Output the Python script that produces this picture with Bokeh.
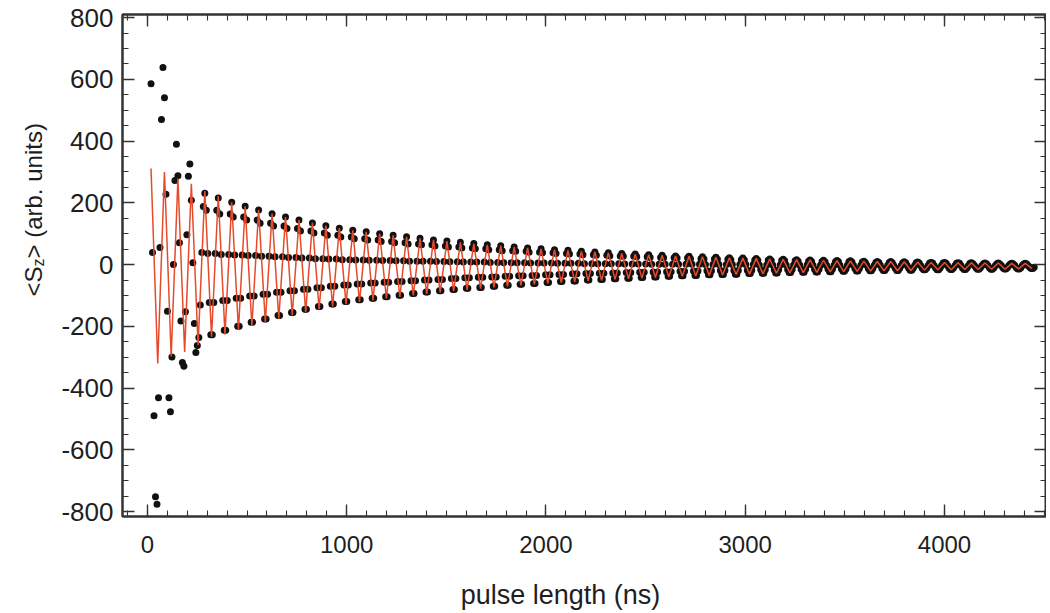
import numpy as np
from bokeh.plotting import figure
from bokeh.layouts import row, column
from bokeh.models import LinearAxis, SingleIntervalTicker, Label, Range1d
from bokeh.embed import file_html
from bokeh.resources import INLINE

# ---- data ----
pulse_start_ns = 18.0      # first pulse length
pulse_step_ns = 7.5        # pulse-length increment of the sweep

sz_measured = [
    586, 39, -490, -752, -776, -431, 55, 470, 638,
    540, 228, -151, -431, -477, -299, 0, 272, 390,
    288, 71, -183, -317, -329, -153, 97, 286, 326,
    208, 6, -191, -285, -262, -236, -131, 39, 188,
    231, 176, 36, -123, -227, -227, -123, 36, 176,
    216, 164, 33, -116, -213, -213, -116, 33, 164,
    202, 154, 31, -109, -200, -200, -109, 31, 154,
    189, 144, 29, -102, -187, -187, -102, 29, 144,
    177, 134, 27, -96, -176, -176, -96, 27, 134,
    165, 125, 25, -90, -165, -165, -90, 25, 125,
    154, 117, 23, -85, -155, -155, -85, 23, 117,
    144, 109, 21, -80, -145, -145, -80, 21, 109,
    135, 102, 19, -75, -136, -136, -75, 19, 102,
    126, 95, 18, -70, -128, -128, -70, 18, 95,
    118, 89, 16, -66, -120, -120, -66, 16, 89,
    111, 84, 15, -63, -114, -114, -63, 15, 84,
    106, 80, 14, -60, -109, -109, -60, 14, 80,
    100, 75, 13, -57, -104, -104, -57, 13, 75,
    95, 71, 12, -55, -99, -99, -55, 12, 71,
    90, 67, 11, -52, -94, -94, -52, 11, 67,
    85, 64, 11, -50, -89, -89, -50, 11, 64,
    80, 60, 10, -48, -85, -85, -48, 10, 60,
    76, 57, 9, -45, -81, -81, -45, 9, 57,
    72, 54, 8, -43, -77, -77, -43, 8, 54,
    68, 51, 8, -41, -74, -74, -41, 8, 51,
    64, 48, 7, -40, -70, -70, -40, 7, 48,
    61, 45, 6, -38, -67, -67, -38, 6, 45,
    57, 43, 6, -36, -64, -64, -36, 6, 43,
    54, 40, 5, -35, -61, -61, -35, 5, 40,
    51, 38, 5, -33, -58, -58, -33, 5, 38,
    48, 36, 4, -32, -55, -55, -32, 4, 36,
    46, 34, 4, -30, -53, -53, -30, 4, 34,
    43, 32, 3, -29, -50, -50, -29, 3, 32,
    41, 30, 3, -28, -48, -48, -28, 3, 30,
    38, 28, 3, -27, -46, -46, -27, 3, 28,
    36, 27, 2, -26, -44, -44, -26, 2, 27,
    34, 25, 2, -25, -42, -42, -25, 2, 25,
    32, 23, 1, -24, -40, -40, -24, 1, 23,
    30, 22, 1, -23, -38, -38, -23, 1, 22,
    28, 21, 1, -22, -36, -36, -22, 1, 21,
    27, 19, 1, -21, -35, -35, -21, 1, 19,
    25, 18, 0, -20, -33, -33, -20, 0, 18,
    24, 17, 0, -19, -32, -32, -19, 0, 17,
    22, 16, 0, -19, -31, -31, -19, 0, 16,
    21, 15, 0, -18, -29, -29, -18, 0, 15,
    20, 14, -1, -17, -28, -28, -17, -1, 14,
    18, 13, -1, -17, -27, -27, -17, -1, 13,
    17, 12, -1, -16, -26, -26, -16, -1, 12,
    16, 11, -1, -15, -25, -25, -15, -1, 11,
    15, 10, -2, -15, -24, -24, -15, -2, 10,
    14, 9, -2, -14, -23, -23, -14, -2, 9,
    13, 9, -2, -14, -22, -22, -14, -2, 9,
    12, 8, -2, -13, -21, -21, -13, -2, 8,
    11, 7, -2, -13, -20, -20, -13, -2, 7,
    10, 7, -2, -13, -19, -19, -13, -2, 7,
    10, 6, -3, -12, -19, -19, -12, -3, 6,
    9, 6, -3, -12, -18, -18, -12, -3, 6,
    8, 5, -3, -12, -17, -17, -12, -3, 5,
    7, 5, -3, -11, -17, -17, -11, -3, 5,
    7, 4, -3, -11, -16, -16, -11, -3, 4,
    6, 4, -3, -11, -16, -16, -11, -3, 4,
    6, 3, -3, -10, -15, -15, -10, -3, 3,
    5, 3, -3, -10, -15, -15, -10, -3, 3,
    5, 2, -3, -10, -14, -14, -10, -3, 2,
    4, 2, -3, -10, -14, -14, -10, -3, 2,
    4, 2, -4, -9, -13, -13, -9,
]

# fit curve: successive maxima / minima, half a Rabi period apart
fit_start_ns = 18.0
fit_half_period_ns = 33.75
sz_fit_extrema = [
    311, -320, 300, -298, 279, -283, 262, -261, 238, -234, 222, -226,
    202, -212, 189, -199, 177, -187, 165, -175, 154, -164, 144, -154,
    135, -145, 126, -136, 118, -128, 111, -121, 106, -116, 100, -110,
    95, -105, 90, -100, 85, -95, 80, -90, 76, -86, 72, -82, 68, -78,
    64, -74, 61, -71, 57, -67, 54, -64, 51, -61, 48, -58, 46, -56,
    43, -53, 41, -51, 38, -48, 36, -46, 34, -44, 32, -42, 30, -40,
    28, -38, 27, -37, 25, -35, 24, -34, 22, -32, 21, -31, 20, -30,
    18, -28, 17, -27, 16, -26, 15, -25, 14, -24, 13, -23, 12, -22,
    11, -21, 10, -20, 10, -20, 9, -19, 8, -18, 7, -17, 7, -17,
    6, -16, 6, -16, 5, -15, 5, -15, 4, -14, 4, -13,
]

x_ticks = [0, 1000, 2000, 3000, 4000]
y_ticks = [-800, -600, -400, -200, 0, 200, 400, 600, 800]
x_title = "pulse length (ns)"
y_title_parts = ["<S", "z", "> (arb. units)"]

# ---- derived coordinates ----
t_meas = pulse_start_ns + pulse_step_ns * np.arange(len(sz_measured))
t_fit = fit_start_ns + fit_half_period_ns * np.arange(len(sz_fit_extrema))

FONT = "Liberation Sans"
TXT = "#1e1e1e"
AX = "#333333"

X0, X1 = -125.1, 4512.0
Y0, Y1 = -816.0, 810.0
LEFT_W = 56          # strip holding the vertical axis title
TOP_H = 570          # height of the plot row
BOT_H = 42           # strip holding the horizontal axis title
FRAME_W, FRAME_H = 924, 502

p = figure(
    frame_width=FRAME_W, frame_height=FRAME_H,
    x_range=Range1d(X0, X1), y_range=Range1d(Y0, Y1),
    output_backend="svg", toolbar_location=None,
    min_border_left=122 - LEFT_W, min_border_right=0, min_border_top=14,
    min_border_bottom=TOP_H - 16 - FRAME_H,
)
p.background_fill_color = "white"
p.border_fill_color = "white"
p.outline_line_color = AX
p.outline_line_width = 2
p.grid.visible = False


def style(ax, font_size=None):
    ax.axis_line_color = AX
    ax.axis_line_width = 2
    ax.major_tick_in = 12
    ax.major_tick_out = 0
    ax.minor_tick_in = 6
    ax.minor_tick_out = 0
    ax.major_tick_line_color = AX
    ax.minor_tick_line_color = AX
    ax.major_tick_line_width = 1.4
    ax.minor_tick_line_width = 1.1
    ax.major_label_text_font = FONT
    if font_size:
        ax.major_label_text_font_size = font_size
        ax.major_label_text_color = TXT
    else:
        ax.major_label_text_font_size = "1px"
        ax.major_label_text_color = None
        ax.major_label_standoff = 0


xb = p.below[0]
xb.ticker = SingleIntervalTicker(interval=1000, num_minor_ticks=10)
style(xb, "24px")
xb.major_label_standoff = 19
xb.major_label_overrides = {v: str(v) for v in x_ticks}

yl = p.left[0]
yl.ticker = SingleIntervalTicker(interval=200, num_minor_ticks=4)
style(yl, "26px")
yl.major_label_standoff = 9
yl.major_label_overrides = {v: str(v) for v in y_ticks}

xa = LinearAxis(ticker=SingleIntervalTicker(interval=1000, num_minor_ticks=10))
style(xa)
p.add_layout(xa, "above")
yr = LinearAxis(ticker=SingleIntervalTicker(interval=200, num_minor_ticks=4))
style(yr)
p.add_layout(yr, "right")

p.scatter(t_meas, sz_measured, size=7, marker="circle", fill_color="#111111", line_color=None)
p.line(t_fit, sz_fit_extrema, line_color="#e54a2b", line_width=1.5)


def strip(w, h):
    f = figure(frame_width=w, frame_height=h, x_range=Range1d(0, w), y_range=Range1d(h, 0),
               output_backend="svg", toolbar_location=None, title=None,
               x_axis_location=None, y_axis_location=None, min_border=0)
    f.min_border_left = f.min_border_right = f.min_border_top = f.min_border_bottom = 0
    f.outline_line_color = None
    f.background_fill_color = "white"
    f.border_fill_color = "white"
    f.grid.visible = False
    return f


# ---- vertical axis title (with subscript) in a narrow strip on the left ----
q = strip(LEFT_W, TOP_H)
lab = dict(text_font=FONT, text_color=TXT, text_baseline="alphabetic",
           text_align="left", angle=90, angle_units="deg")
q.add_layout(Label(x=33, y=282, text=y_title_parts[0], text_font_size="24px", **lab))
q.add_layout(Label(x=38, y=252, text=y_title_parts[1], text_font_size="16px", **lab))
q.add_layout(Label(x=33, y=244, text=y_title_parts[2], text_font_size="24px", **lab))

# ---- horizontal axis title in a strip below ----
r = strip(122 + FRAME_W, BOT_H)
r.add_layout(Label(x=560, y=24, text=x_title, text_font_size="27px", text_font=FONT,
                   text_color=TXT, text_baseline="alphabetic", text_align="center"))

layout = column(row(q, p), r)
open("out.html", "w").write(file_html(layout, INLINE))
